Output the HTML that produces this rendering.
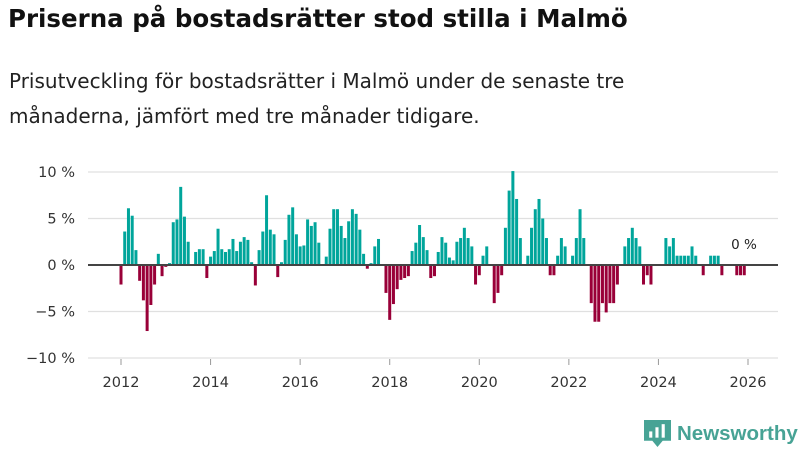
<!DOCTYPE html>
<html><head><meta charset="utf-8"><style>
body{margin:0;width:800px;height:450px;background:#fff;font-family:"DejaVu Sans","Liberation Sans",sans-serif;overflow:hidden;position:relative}
h1{position:absolute;left:8px;top:4px;margin:0;font-size:24.5px;font-weight:bold;color:#111;white-space:nowrap}
p{position:absolute;left:9px;top:64px;margin:0;font-size:20px;line-height:35px;color:#222;width:660px}
svg{position:absolute;left:0;top:0}
</style></head><body>
<h1>Priserna på bostadsrätter stod stilla i Malmö</h1>
<p>Prisutveckling för bostadsrätter i Malmö under de senaste tre månaderna, jämfört med tre månader tidigare.</p>
<svg id="c" width="800" height="450"></svg>
<script>
const values=[-2.1,3.6,6.1,5.3,1.6,-1.7,-3.8,-7.1,-4.3,-2.1,1.2,-1.2,-0.2,0.2,4.6,4.9,8.4,5.2,2.5,0,1.4,1.7,1.7,-1.4,0.9,1.5,3.9,1.7,1.4,1.7,2.8,1.5,2.5,3.0,2.7,0.3,-2.2,1.6,3.6,7.5,3.8,3.3,-1.3,0.3,2.7,5.4,6.2,3.3,2.0,2.1,4.9,4.2,4.6,2.4,0,0.9,3.9,
6.0,6.0,4.2,2.9,4.7,6.0,5.5,3.8,1.2,-0.4,0.2,2.0,2.8,0,-3.0,-5.9,-4.2,-2.6,-1.6,-1.4,-1.2,1.5,2.4,4.3,3.0,1.6,-1.4,-1.2,1.4,3.0,2.4,0.8,0.5,2.5,2.9,4.0,2.9,2.0,-2.1,-1.1,1.0,2.0,0,-4.1,-3.0,-1.1,4.0,8.0,10.1,7.1,2.9,0,1.0,4.0,6.0,7.1,5.0,
2.9,-1.1,-1.1,1.0,2.9,2.0,0,1.0,2.9,6.0,2.9,0,-4.1,-6.1,-6.1,-4.1,-5.1,-4.1,-4.1,-2.1,0,2.0,2.9,4.0,2.9,2.0,-2.1,-1.1,-2.1,0,0,0,2.9,2.0,2.9,1.0,1.0,1.0,1.0,2.0,1.0,0,-1.1,0,1.0,1.0,1.0,-1.1,0,0,0,-1.1,-1.1,-1.1];
const yTicks=[10,5,0,-5,-10];
const xTicks=[2012,2014,2016,2018,2020,2022,2024,2026];
const startYear=2012;
const svg=document.getElementById('c');const NS='http://www.w3.org/2000/svg';
const X=t=>121+(t-2012)*(748-121)/14;
const Y=v=>265-v*9.3;
function mk(tag,a,txt){const e=document.createElementNS(NS,tag);for(const k in a)e.setAttribute(k,a[k]);if(txt!=null)e.textContent=txt;svg.appendChild(e);return e;}
yTicks.forEach(v=>{
 if(v!==0){const l=mk('line',{x1:88,x2:778,y1:Y(v),y2:Y(v),stroke:'#e0e0e0','stroke-width':1.3});
 
 }
 const t=mk('text',{x:75,y:Y(v)+5,'text-anchor':'end','font-size':14.5,fill:'#333'},(v<0?'−'+(-v):v)+' %');
 
 
});
xTicks.forEach(yr=>{
 const l=mk('line',{x1:X(yr),x2:X(yr),y1:359,y2:365,stroke:'#999'});
 
 
 const t=mk('text',{x:X(yr),y:387,'text-anchor':'middle','font-size':14.5,fill:'#333'},yr);
 
 
});
values.forEach((v,i)=>{
 if(v===0)return;
 const cx=X(startYear+i/12);
 const r=mk('rect',{x:cx-1.5,width:3,y:v>0?Y(v):Y(0),height:Math.abs(Y(v)-Y(0)),fill:v>0?'#00a59b':'#990038'});
 
 
});
const z=mk('line',{x1:88,x2:778,y1:Y(0),y2:Y(0),stroke:'#444','stroke-width':2});


const lab=mk('text',{x:744,y:249,'text-anchor':'middle','font-size':13.5,fill:'#222'},'0 %');


</script>
<div style="position:absolute;left:644px;top:420px;display:flex;align-items:center">
 <svg width="27" height="27" viewBox="0 0 26 26" style="position:static"><path d="M0 0H26V20L18 20L13 26L8 20H0Z" fill="#47a395"/><rect x="5" y="11" width="3" height="6" fill="#fff"/><rect x="11" y="7" width="3" height="10" fill="#fff"/><rect x="17" y="4" width="3" height="13" fill="#fff"/></svg>
 <span style="font-size:20.5px;font-weight:bold;color:#47a395;margin-left:6px;font-family:'Liberation Sans',sans-serif">Newsworthy</span>
</div>
</body></html>
